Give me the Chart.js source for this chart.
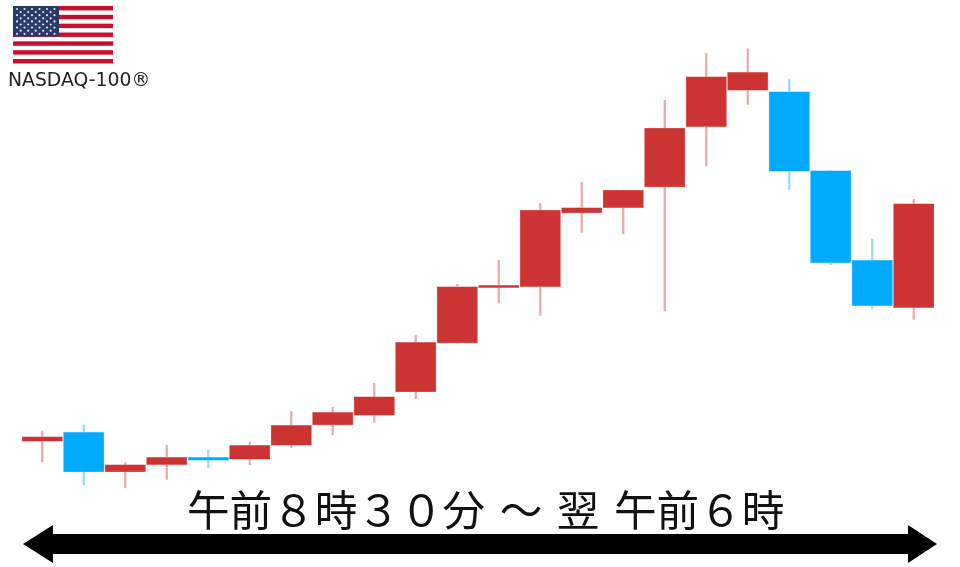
<!DOCTYPE html>
<html>
<head>
<meta charset="utf-8">
<script src="https://cdn.jsdelivr.net/npm/chart.js@4/dist/chart.umd.min.js"></script>
<style>
    html, body { margin: 0; padding: 0; background: #fff; }
    #wrap { position: relative; width: 960px; height: 567px; overflow: hidden; }
    #myChart { position: absolute; left: 0; top: 0; }
    #flag, #arrow { position: absolute; left: 0; top: 0; }
    #indexName { position: absolute; left: 8px; top: 69px; font: 18.8px "DejaVu Sans"; color: #222; white-space: pre; }
    #timeRange { position: absolute; left: 187px; top: 478px; font: 42.6px "Noto Sans CJK JP"; line-height: 60px; word-spacing: 5px; color: #111; white-space: pre; }
</style>
</head>
<body>
<div id="wrap">
    <canvas id="myChart" width="960" height="567"></canvas>
    <svg id="flag" width="120" height="70"></svg>
    <svg id="arrow" width="960" height="567">
        <polygon fill="#000" points="23,544 53,525 53,534 908,534 908,525 937,544 908,563 908,554 53,554 53,563"></polygon>
    </svg>
    <div id="indexName">NASDAQ-100®</div>
    <div id="timeRange">午前８時３０分 ～ 翌 午前６時</div>
</div>
<script>
// the price unit is arbitrary
var sessions = ['1', '2', '3', '4', '5', '6', '7', '8', '9', '10', '11', '12', '13', '14', '15', '16', '17', '18', '19', '20', '21', '22'];
var opens = [125.7, 134.7, 95, 102.3, 109.7, 107.7, 121.7, 142, 151.7, 175, 224, 279.3, 280.3, 354, 359.3, 380, 440.3, 476.7, 475.3, 396.3, 306.7, 259.3];
var closes = [130.3, 95, 102.3, 109.7, 106.7, 121.7, 141.7, 154.7, 170.3, 224.7, 280.3, 281.7, 357, 359.3, 377, 439, 490.3, 494.7, 395.7, 304.3, 261.3, 363.3];
var highs = [136, 142, 104.7, 121.7, 117, 125, 155.7, 160, 183.7, 231.3, 282.7, 307, 363.7, 384.7, 377, 466.7, 513.7, 518, 488, 396.3, 328, 367.7];
var lows = [105.3, 82, 79, 87.7, 99.3, 102.3, 119.3, 132, 144.7, 168.3, 224, 264.3, 251.7, 334.7, 333, 256, 401, 462.7, 377.7, 302.3, 258.3, 247.7];

var upColor = '#cc3333';
var downColor = '#00aaff';
var upEdge = '#eb9a9a';
var downEdge = '#80d4ff';
var upWick = 'rgba(204,51,51,0.42)';
var downWick = 'rgba(0,170,255,0.42)';

function isUp(i) {
    return closes[i] >= opens[i];
}

function pickColors(up, down) {
    return sessions.map(function (s, i) {
        return isUp(i) ? up : down;
    });
}

new Chart(document.getElementById('myChart').getContext('2d'), {
    type: 'bar',
    data: {
        labels: sessions,
        datasets: [{
            label: 'body',
            data: opens.map(function (o, i) { return [o, closes[i]]; }),
            backgroundColor: pickColors(upColor, downColor),
            borderColor: pickColors(upEdge, downEdge),
            borderWidth: 0.6,
            borderSkipped: false,
            barThickness: 40.6,
            grouped: false,
            order: 1
        }, {
            label: 'wick',
            data: lows.map(function (l, i) { return [l, highs[i]]; }),
            backgroundColor: pickColors(upWick, downWick),
            borderWidth: 0,
            barThickness: 1.6,
            grouped: false,
            order: 2
        }]
    },
    options: {
        responsive: false,
        animation: false,
        layout: { padding: { left: 21.5, right: 25.5, top: 0, bottom: 0 } },
        plugins: { legend: { display: false }, tooltip: { enabled: false } },
        scales: {
            x: { display: false, offset: true },
            y: { display: false, min: 0, max: 567 }
        }
    }
});

// flag next to the index name
var svgNS = 'http://www.w3.org/2000/svg';
var flag = document.getElementById('flag');
function addShape(name, attrs) {
    var el = document.createElementNS(svgNS, name);
    for (var k in attrs) el.setAttribute(k, attrs[k]);
    flag.appendChild(el);
}
addShape('rect', { x: 13, y: 6, width: 100, height: 57.5, fill: '#fff' });
for (var s = 0; s < 13; s += 2) {
    addShape('rect', { x: 13, y: 6 + s * 4.42, width: 100, height: 4.42, fill: '#c8102e' });
}
addShape('rect', { x: 13, y: 6, width: 46, height: 30.5, fill: '#2c3a6b' });
for (var row = 0; row < 9; row++) {
    var n = row % 2 ? 5 : 6;
    for (var c = 0; c < n; c++) {
        addShape('circle', { cx: 17 + (row % 2 ? 3.7 : 0) + c * 7.5, cy: 9 + row * 3.1, r: 1.1, fill: '#dfe3f0' });
    }
}
</script>
</body>
</html>
